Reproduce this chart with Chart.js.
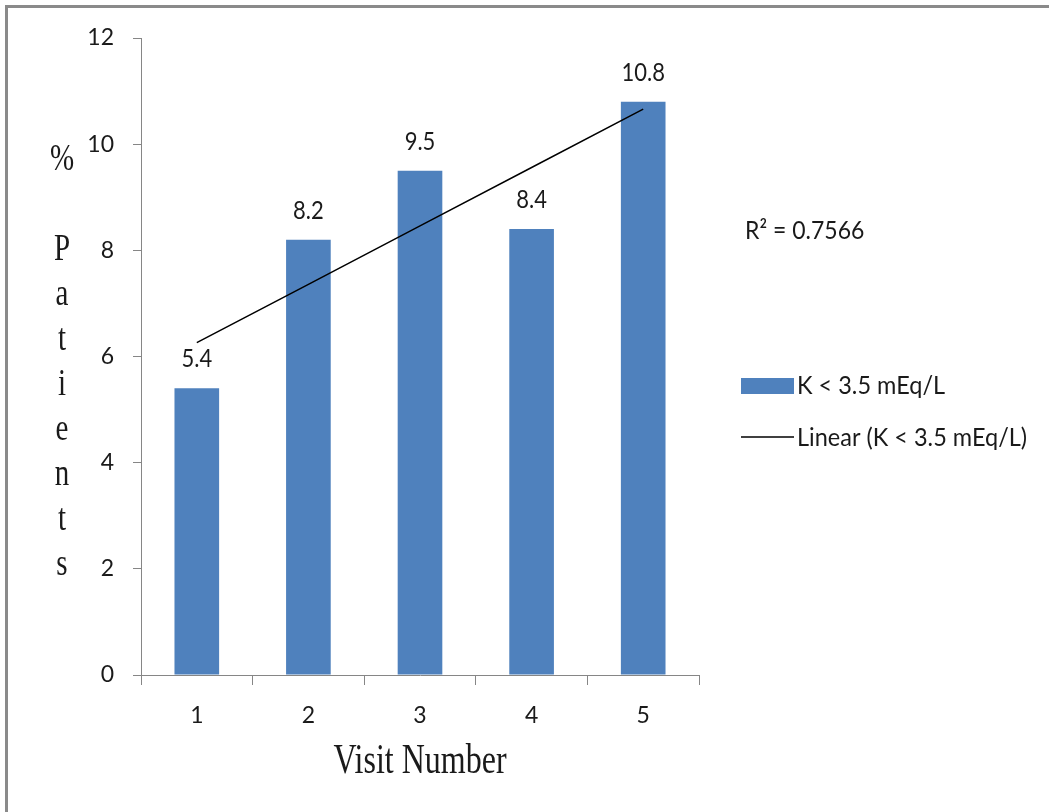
<!DOCTYPE html>
<html>
<head>
<meta charset="utf-8">
<script src="https://cdn.jsdelivr.net/npm/chart.js@4"></script>
<style>
  html, body { margin: 0; padding: 0; background: #fff; }
  #wrap { position: relative; width: 1049px; height: 812px; }
</style>
</head>
<body>
<div id="wrap"><canvas id="visitChart" width="1049" height="812"></canvas></div>
<script>
// data
const visits = ["1", "2", "3", "4", "5"];
const pctLowK = [5.4, 8.2, 9.5, 8.4, 10.8];
const trendVals = [6.26, 7.36, 8.46, 9.56, 10.66];
const rSquared = "0.7566";
const barLabel = "K < 3.5 mEq/L";
const trendLabel = "Linear (K < 3.5 mEq/L)";

const BLUE = "#4F81BD";
const AXIS = "#868686";
const INK = "#1a1a1a";
const SANS = "Lato, 'Open Sans', sans-serif";
const SERIF = "'Liberation Serif', 'DejaVu Serif', serif";

// text drawn a bit taller than wide, like the source picture
function tallText(ctx, txt, x, y, font, sy) {
  ctx.save();
  ctx.font = font;
  ctx.translate(x, y);
  ctx.scale(1, sy);
  ctx.fillText(txt, 0, 0);
  ctx.restore();
}

const extras = {
  id: "extras",
  beforeDraw(chart) {
    const ctx = chart.ctx;
    ctx.save();
    ctx.fillStyle = "#fff";
    ctx.fillRect(0, 0, chart.width, chart.height);
    // frame on top and left
    ctx.fillStyle = "#8a8a8a";
    ctx.fillRect(5, 5, chart.width - 5, 3);
    ctx.fillRect(5, 5, 3, chart.height - 5);
    ctx.restore();
  },
  afterDraw(chart) {
    const ctx = chart.ctx;
    const area = chart.chartArea;
    ctx.save();
    ctx.fillStyle = INK;

    // value labels over the bars
    ctx.textAlign = "center";
    ctx.textBaseline = "alphabetic";
    const bars = chart.getDatasetMeta(1).data;
    bars.forEach((b, i) => {
      tallText(ctx, String(pctLowK[i]), b.x, b.y - 21, "22px " + SANS, 1.12);
    });

    // y title, one letter per line
    const letters = ["%", "", "P", "a", "t", "i", "e", "n", "t", "s"];
    letters.forEach((ch, i) => {
      if (ch) tallText(ctx, ch, 62, 170 + i * 45, "29px " + SERIF, 1.3);
    });

    // x title
    tallText(ctx, "Visit Number", (area.left + area.right) / 2, 773, "32px " + SERIF, 1.3);

    // R squared
    ctx.textAlign = "left";
    tallText(ctx, "R\u00B2 = " + rSquared, 745, 239, "23px " + SANS, 1.1);

    // legend
    ctx.fillStyle = BLUE;
    ctx.fillRect(741, 378, 53, 16);
    ctx.strokeStyle = "#000";
    ctx.lineWidth = 1.5;
    ctx.beginPath();
    ctx.moveTo(741, 437);
    ctx.lineTo(794, 437);
    ctx.stroke();
    ctx.fillStyle = INK;
    tallText(ctx, barLabel, 797, 394, "23.5px " + SANS, 1.1);
    tallText(ctx, trendLabel, 797, 446, "23.5px " + SANS, 1.1);
    ctx.restore();
  }
};

const ctx = document.getElementById("visitChart").getContext("2d");

new Chart(ctx, {
  data: {
    labels: visits,
    datasets: [
      {
        type: "line",
        label: trendLabel,
        data: trendVals,
        borderColor: "#000",
        borderWidth: 1.5,
        pointRadius: 0,
        fill: false,
        order: 0
      },
      {
        type: "bar",
        label: barLabel,
        data: pctLowK,
        backgroundColor: BLUE,
        categoryPercentage: 1,
        barPercentage: 0.4,
        order: 1
      }
    ]
  },
  options: {
    responsive: false,
    animation: false,
    layout: { padding: { top: 38, right: 350, left: 0, bottom: 0 } },
    plugins: {
      legend: { display: false },
      tooltip: { enabled: false }
    },
    scales: {
      x: {
        afterFit: s => { s.height = 137; },
        border: { display: true, color: AXIS, width: 1 },
        grid: { drawOnChartArea: false, color: AXIS, tickLength: 10, offset: true },
        ticks: { color: INK, font: { family: SANS, size: 23 }, padding: 17 }
      },
      y: {
        min: 0,
        max: 12,
        afterFit: s => { s.width = 141; },
        border: { display: true, color: AXIS, width: 1 },
        grid: { drawOnChartArea: false, color: AXIS, tickLength: 8 },
        ticks: { stepSize: 2, color: INK, font: { family: SANS, size: 23 }, padding: 19 }
      }
    }
  },
  plugins: [extras]
});
</script>
</body>
</html>
